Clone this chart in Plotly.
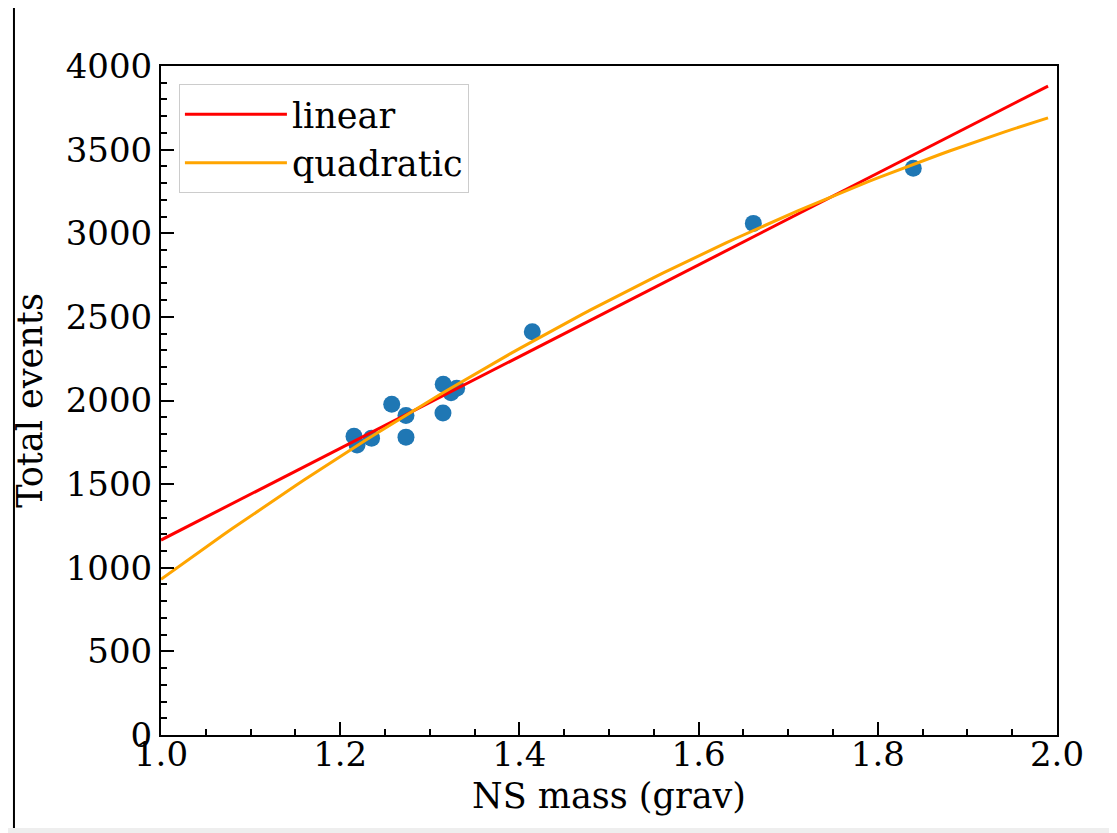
import numpy as np
import plotly.graph_objects as go

# Data
ns_mass = [1.2154, 1.2188, 1.2350, 1.2575, 1.2734, 1.2734, 1.3150, 1.3147, 1.3237, 1.3300, 1.4144, 1.6611, 1.8396]
total_events = [1786, 1734, 1775, 1978, 1910, 1781, 2097, 1925, 2046, 2073, 2411, 3059, 3389]

x_fit = np.arange(1.0, 2.0, 0.01)
lin_coef = np.polyfit(ns_mass, total_events, 1)
quad_coef = np.polyfit(ns_mass, total_events, 2)
y_lin = np.polyval(lin_coef, x_fit)
y_quad = np.polyval(quad_coef, x_fit)

FONT = "DejaVu Serif"
FS_TICK = 34
FS_TEXT = 35

fig = go.Figure()
fig.add_trace(go.Scatter(x=ns_mass, y=total_events, mode="markers",
                         marker=dict(color="#1f77b4", size=17, line=dict(width=0)),
                         showlegend=False))
fig.add_trace(go.Scatter(x=x_fit, y=y_lin, mode="lines", name="linear", legendgroup="a",
                         line=dict(color="red", width=3)))
fig.add_trace(go.Scatter(x=x_fit, y=y_quad, mode="lines", name="quadratic", legendgroup="b",
                         line=dict(color="orange", width=3)))

axis_common = dict(
    showline=True, linecolor="black", linewidth=2, mirror=True,
    ticks="inside", ticklen=13, tickwidth=1.5, tickcolor="black",
    showgrid=False, zeroline=False,
    tickfont=dict(family=FONT, size=FS_TICK, color="black"),
)
fig.update_xaxes(range=[1.0, 2.0], tickvals=[1.0, 1.2, 1.4, 1.6, 1.8, 2.0],
                 ticktext=["1.0", "1.2", "1.4", "1.6", "1.8", "2.0"],
                 ticklabelstandoff=-12,
                 minor=dict(ticks="inside", dtick=0.05, ticklen=6, tickwidth=1.5, tickcolor="black"),
                 title=dict(text="NS mass (grav)", font=dict(family=FONT, size=FS_TEXT, color="black"), standoff=11),
                 **axis_common)
fig.update_yaxes(range=[0, 4000], tickvals=list(range(0, 4001, 500)),
                 minor=dict(ticks="inside", dtick=100, ticklen=6, tickwidth=1.5, tickcolor="black"),
                 title=dict(text="Total events", font=dict(family=FONT, size=FS_TEXT, color="black"), standoff=12),
                 **axis_common)

fig.update_layout(
    width=1109, height=825,
    margin=dict(l=153, r=60, t=58, b=98, autoexpand=False),
    plot_bgcolor="white", paper_bgcolor="white",
    font=dict(family=FONT, size=FS_TEXT, color="black"),
    legend=dict(x=0.02, y=0.973, xanchor="left", yanchor="top",
                bgcolor="rgba(255,255,255,0.8)", bordercolor="#cccccc", borderwidth=1,
                font=dict(family=FONT, size=FS_TEXT, color="black"),
                itemwidth=102, tracegroupgap=0),
    shapes=[
        dict(type="line", xref="paper", yref="paper", x0=-0.1641, x1=-0.1641, y0=-0.139, y1=1.1,
             line=dict(color="black", width=2)),
        dict(type="rect", xref="paper", yref="paper", x0=-0.2, x1=1.1, y0=-0.139, y1=-0.16,
             fillcolor="#eeeeee", line=dict(width=0)),
    ],
)

fig.write_html("out.html")
